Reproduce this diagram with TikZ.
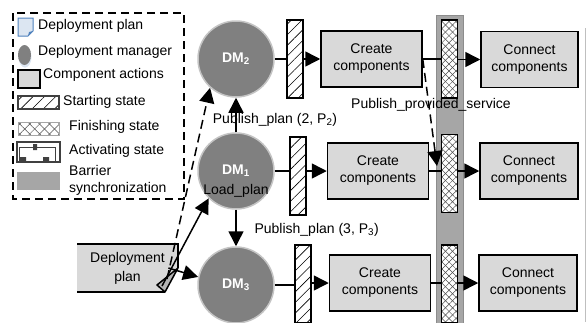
\documentclass[tikz,border=0pt]{standalone}
\usepackage{fontspec}
\setmainfont{Liberation Sans}
\usetikzlibrary{arrows.meta,patterns.meta,calc}

\definecolor{dmgray}{HTML}{808080}
\definecolor{dmrim}{HTML}{C4C4C4}
\definecolor{boxgray}{HTML}{D9D9D9}
\definecolor{foldgray}{HTML}{B4B4B4}
\definecolor{barfill}{HTML}{A6A6A6}
\definecolor{barline}{HTML}{8C8C8C}
\definecolor{docfill}{HTML}{DCE6F2}
\definecolor{docline}{HTML}{4F81BD}

\tikzset{
	manager/.style={circle,draw=dmrim,line width=1.5pt,fill=dmgray,minimum size=76pt,inner sep=0pt,text=white,font=\fontsize{14}{17}\selectfont\bfseries},
	action/.style={draw,line width=1.5pt,fill=boxgray,minimum width=101pt,minimum height=56pt,inner sep=0pt,align=center},
	startbar/.style={draw,line width=1.3pt,preaction={fill=white},pattern={Lines[angle=45,distance=7.5pt,line width=0.6pt]},minimum width=16pt,minimum height=78pt,inner sep=0pt},
	finishbar/.style={draw,line width=1.3pt,preaction={fill=white},preaction={pattern={Lines[angle=45,distance=5pt,line width=0.5pt]},pattern color=black!70},pattern={Lines[angle=-45,distance=5pt,line width=0.5pt]},pattern color=black!70,minimum width=16pt,minimum height=78pt,inner sep=0pt},
	barrier/.style={draw=barline,line width=1pt,fill=barfill,minimum width=27pt,inner sep=0pt},
	link/.style={line width=1.5pt,>={Triangle[length=15pt,width=15pt]}},
	dashlink/.style={link,dash pattern=on 9pt off 5pt},
	legendtext/.style={anchor=west,inner sep=0pt,align=left}
}

\begin{document}
\begin{tikzpicture}[x=1pt,y=-1pt,every node/.append style={font=\fontsize{14}{17}\selectfont}]
	\useasboundingbox (0,0) rectangle (587,322);

	\draw[line width=1.5pt,dash pattern=on 8pt off 5pt] (13,13) rectangle (184,199);
	\draw[docline,fill=docfill,line width=1pt] (18,18) -- (33,18) -- (33,31) -- (28,36) -- (18,36) -- cycle;
	\fill[docline] (33,31) -- (28,36) -- (29,32) -- cycle;
	\fill[docfill] (25,57) ellipse (6.5 and 10.5);
	\fill[dmgray] (24.5,55) ellipse (6.5 and 10);
	\draw[line width=1.5pt,fill=boxgray] (18,70) rectangle (40,88);
	\draw[line width=1.2pt,black!75,preaction={fill=white},pattern={Lines[angle=45,distance=8pt,line width=0.6pt]}] (18,96) rectangle (59,109);
	\draw[line width=1pt,black!35,preaction={fill=white},preaction={pattern={Lines[angle=45,distance=7pt,line width=0.5pt]},pattern color=black!70},pattern={Lines[angle=-45,distance=7pt,line width=0.5pt]},pattern color=black!70] (18,122) rectangle (59,135);
	\draw[line width=1.5pt,black!75] (17,142) rectangle (60,162);
	\draw[line width=0.8pt,black!75] (19,162) -- (19,147.5) -- (55,147.5) -- (55,162);
	\fill[black!75] (33,144) rectangle (37,150) (20,157) rectangle (26,162) (43,157) rectangle (49,162);
	\fill[barfill] (17,172) rectangle (60,190);

	\node[legendtext] (lplan) at (38,26) {Deployment plan};
	\node[legendtext] (lmanager) at (38,52) {Deployment manager};
	\node[legendtext] (laction) at (43,75) {Component actions};
	\node[legendtext] (lstart) at (63,102) {Starting state};
	\node[legendtext] (lfinish) at (69,127) {Finishing state};
	\node[legendtext] (lactive) at (69,151) {Activating state};
	\node[legendtext] (lbarrier) at (69,180) {Barrier\\synchronization};

	\node[barrier,minimum height=315pt] (sync) at (449.5,172.5) {};
	\draw[black!25] (585,28) -- (585,322);

	\node[manager] (dm2) at (236,59) {DM\textsubscript{2}};
	\node[manager] (dm1) at (236,171) {\raisebox{3pt}{DM\textsubscript{1}}};
	\node[manager] (dm3) at (236,285) {DM\textsubscript{3}};

	\node[startbar] (s2) at (295,59) {};
	\node[startbar] (s1) at (298,176) {};
	\node[startbar] (s3) at (303,284) {};

	\node[action] (c2) at (371.5,59) {Create\\components};
	\node[action] (c1) at (378,171) {Create\\components};
	\node[action] (c3) at (380,283) {Create\\components};

	\node[finishbar] (f2) at (449.5,59) {};
	\node[finishbar] (f1) at (449.5,173.5) {};
	\node[finishbar] (f3) at (449.5,284) {};

	\node[action,minimum width=97pt] (k2) at (529.5,59.5) {Connect\\components};
	\node[action,minimum width=98pt] (k1) at (529,171) {Connect\\components};
	\node[action,minimum width=98pt] (k3) at (528,283) {Connect\\components};

	\fill[boxgray] (77,244) -- (178,244) -- (178,268) -- (165,292) -- (77,292) -- cycle;
	\draw[line width=1.5pt] (77,244) -- (178,244) -- (178,268) (165,292) -- (77,292) -- cycle;
	\draw[line width=1.5pt,fill=foldgray,line join=round] (178,268) -- (157,285) -- (165,292) -- cycle;
	\node[align=center] (plan) at (127.5,268) {Deployment\\[2pt]plan};

	\node (load) at (236,191) {Load\_plan};
	\node (pub2) at (275,120) {Publish\_plan (2, P\textsubscript{2})};
	\node[anchor=west] (pub3) at (251,230) {Publish\_plan (3, P\textsubscript{3})};
	\node (pubsvc) at (431,105) {Publish\_provided\_service};

	\coordinate (fold1) at (162,286);
	\coordinate (fold2) at (167,279);
	\coordinate (arrive) at (437,166);

	\draw [link] (dm2.east) -- (s2.west |- dm2.east);
	\draw [link] (dm1.east) -- (s1.west |- dm1.east);
	\draw [link] (dm3.east) -- (s3.west |- dm3.east);
	\draw [link,->] (s2.east |- c2) -- (c2.west);
	\draw [link,->] (s1.east |- c1) -- (c1.west);
	\draw [link,->] (s3.east |- c3) -- (c3.west);
	\draw [link] (c2.east) -- (f2.west |- c2.east);
	\draw [link] (c1.east) -- (f1.west |- c1.east);
	\draw [link] (c3.east) -- (f3.west |- c3.east);
	\draw [link,->] (f2.east |- k2) -- (k2.west);
	\draw [link,->] (f1.east |- k1) -- (k1.west);
	\draw [link,->] (f3.east |- k3) -- (k3.west);

	\draw [link,->] (dm1) -- (dm2);
	\draw [link,->] (dm1) -- (dm3);
	\draw [link,->] (fold1) -- (dm1.225);
	\draw [link,->] (plan.east) -- (dm3.168);
	\draw [dashlink,->] (fold2) -- (dm2.228);
	\draw [dashlink,->] (c2.east) -- (arrive);
\end{tikzpicture}
\end{document}
